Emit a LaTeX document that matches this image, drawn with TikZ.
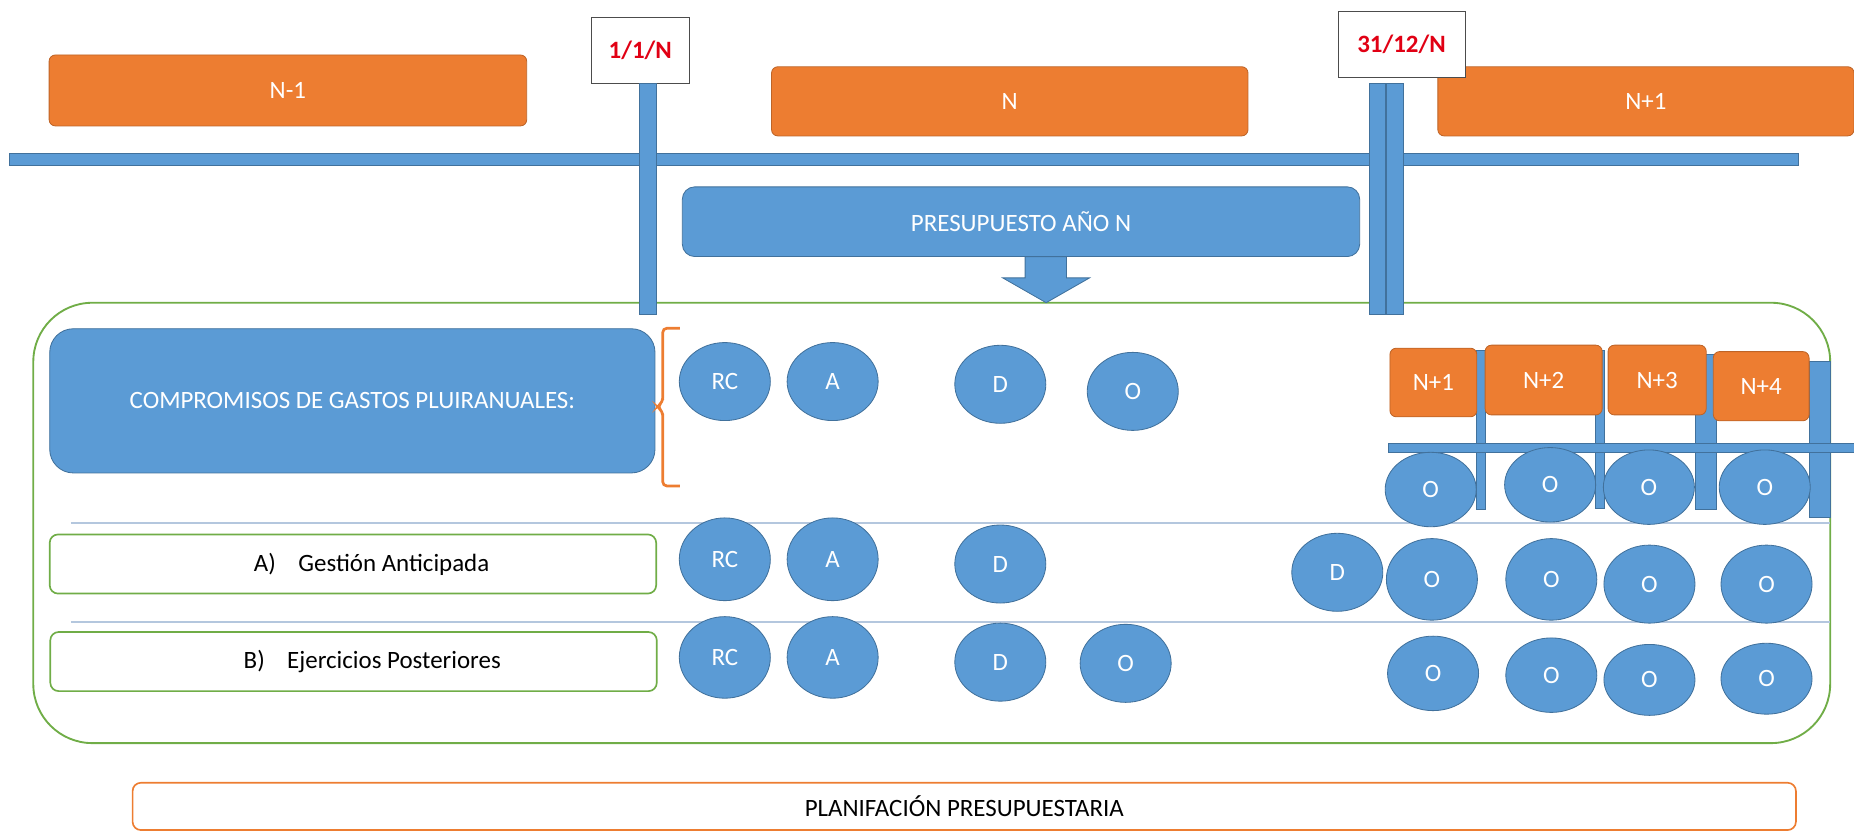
\documentclass[tikz,border=0pt]{standalone}
\usepackage{fontspec}
\setmainfont{Carlito}
\usetikzlibrary{positioning,shapes.geometric}

\begin{document}
\begin{tikzpicture}[x=0.02cm, y=-0.02cm, font=\fontsize{12}{14}\selectfont,
	yearbox/.style={draw=yearorange!80!black, fill=yearorange, text=white, rounded corners=3pt, inner sep=0pt},
	datebox/.style={draw=black!70, fill=white, text=datered, font=\fontsize{12}{14}\selectfont\bfseries, inner sep=0pt},
	bluebox/.style={draw=edgeblue, fill=barblue, text=white, inner sep=0pt},
	bar/.style={draw=edgeblue, fill=barblue, inner sep=0pt},
	phase/.style={ellipse, draw=edgeblue, fill=barblue, text=white, minimum width=1.54cm, minimum height=1.32cm, inner sep=0pt},
	rowbox/.style={draw=framegreen, line width=0.8pt, fill=white, rounded corners=4pt, minimum width=10.26cm, minimum height=1cm, inner sep=0pt},
	sepline/.style={draw=sepblue, line width=1pt}]
		
		% Colors
		\definecolor{yearorange}{RGB}{237,125,49}
		\definecolor{barblue}{RGB}{91,155,213}
		\definecolor{edgeblue}{RGB}{65,113,156}
		\definecolor{framegreen}{RGB}{112,173,71}
		\definecolor{datered}{RGB}{225,0,20}
		\definecolor{sepblue}{RGB}{180,199,222}
		
		\useasboundingbox (0,0) rectangle (1568,704);
		
		% Timeline
		\node (timeline) [bar, minimum width=30.28cm, minimum height=0.2cm] at (764.5,134.6) {};
		\node (yearprev) [yearbox, minimum width=8.08cm, minimum height=1.2cm] at (243.5,76.5) {N-1};
		\node (yearcur) [yearbox, minimum width=8.06cm, minimum height=1.17cm] at (854,85.7) {N};
		\node (yearnext) [yearbox, minimum width=7.04cm, minimum height=1.17cm] at (1392,85.7) {N+1};
		
		% Frame
		\node (frame) [draw=framegreen, line width=0.9pt, rounded corners=1cm, minimum width=30.4cm, minimum height=7.45cm] at (788,442.25) {};
		
		% Dates
		\node (start) [datebox, minimum width=1.66cm, minimum height=1.12cm] at (541.5,42.6) {1/1/N};
		\node (startbar) [bar, minimum width=0.29cm, minimum height=3.91cm] at (547.8,168.25) {};
		\node (end) [datebox, minimum width=2.15cm, minimum height=1.11cm] at (1185.3,37.65) {31/12/N};
		\node (endbarA) [bar, minimum width=0.28cm, minimum height=3.91cm] at (1165,168.25) {};
		\node (endbarB) [bar, minimum width=0.28cm, minimum height=3.91cm, right=0pt of endbarA] {};
		
		% Budget
		\node (budget) [bluebox, rounded corners=6pt, minimum width=11.46cm, minimum height=1.18cm] at (863.5,187.5) {PRESUPUESTO AÑO N};
		\filldraw[fill=barblue, draw=edgeblue] (867,217) -- (867,235) -- (848,235) -- (884.75,256) -- (921.5,235) -- (902,235) -- (902,217) -- cycle;
		
		% Rows
		\node (pluri) [bluebox, rounded corners=0.4cm, minimum width=10.24cm, minimum height=2.44cm] at (298,339) {COMPROMISOS DE GASTOS PLUIRANUALES:};
		\draw[yearorange, line width=1.3pt, rounded corners=2pt] (575,277.6) -- (560.5,277.6) -- (560.5,340) -- (555.7,344) -- (560.5,348) -- (560.5,411) -- (575,411);
		\draw[sepline] (60,442) -- (1548,442);
		\node (antic) [rowbox] at (298.5,477) {\hspace*{1.5em}A)\hspace{0.9em}Gestión Anticipada};
		\draw[sepline] (60,526) -- (1548,526);
		\node (poster) [rowbox] at (299,559.5) {\hspace*{1.5em}B)\hspace{0.9em}Ejercicios Posteriores};
		
		% Later years
		\node (laterbarA) [bar, minimum width=0.14cm, minimum height=2.7cm] at (1252.5,363.5) {};
		\node (laterbarB) [bar, minimum width=0.15cm, minimum height=2.68cm] at (1352.75,363) {};
		\node (laterbarC) [bar, minimum width=0.36cm, minimum height=2.62cm] at (1443,365.5) {};
		\node (laterbarD) [bar, minimum width=0.36cm, minimum height=2.64cm] at (1539,372) {};
		\node (laterline) [bar, minimum width=7.88cm, minimum height=0.16cm] at (1371,379) {};
		\node (yearA) [yearbox, minimum width=1.47cm, minimum height=1.16cm] at (1212.25,323.5) {N+1};
		\node (yearB) [yearbox, minimum width=1.98cm, minimum height=1.18cm] at (1305.5,321.4) {N+2};
		\node (yearC) [yearbox, minimum width=1.66cm, minimum height=1.18cm] at (1401.5,321.4) {N+3};
		\node (yearD) [yearbox, minimum width=1.62cm, minimum height=1.17cm] at (1489.5,326.6) {N+4};
		
		% Phases
		\node (pluriRC) [phase] at (613,322.7) {RC};
		\node (pluriA) [phase, right=0.27cm of pluriRC] {A};
		\node (pluriD) [phase] at (846,325) {D};
		\node (pluriO) [phase] at (958,331) {O};
		\node (pluriOA) [phase, minimum height=1.26cm] at (1210,414) {O};
		\node (pluriOB) [phase, minimum height=1.26cm] at (1311,410) {O};
		\node (pluriOC) [phase, minimum height=1.26cm] at (1394.5,412) {O};
		\node (pluriOD) [phase, minimum height=1.26cm] at (1492.5,412) {O};
		
		\node (anticRC) [phase, minimum height=1.4cm] at (613,473) {RC};
		\node (anticA) [phase, minimum height=1.4cm, right=0.27cm of anticRC] {A};
		\node (anticD) [phase] at (846,477) {D};
		\node (anticDD) [phase] at (1131,484) {D};
		\node (anticOA) [phase, minimum height=1.38cm] at (1211,490) {O};
		\node (anticOB) [phase, minimum height=1.38cm] at (1312,490) {O};
		\node (anticOC) [phase] at (1395,494) {O};
		\node (anticOD) [phase] at (1494,494) {O};
		
		\node (posterRC) [phase, minimum height=1.38cm] at (613,556) {RC};
		\node (posterA) [phase, minimum height=1.38cm, right=0.27cm of posterRC] {A};
		\node (posterD) [phase] at (846,560) {D};
		\node (posterO) [phase] at (952,561) {O};
		\node (posterOA) [phase, minimum height=1.26cm] at (1212,569.5) {O};
		\node (posterOB) [phase, minimum height=1.26cm] at (1312,571) {O};
		\node (posterOC) [phase, minimum height=1.2cm] at (1395,575) {O};
		\node (posterOD) [phase, minimum height=1.2cm] at (1494,574) {O};
		
		% Planning
		\node (plan) [draw=yearorange, line width=0.8pt, rounded corners=4pt, minimum width=28.14cm, minimum height=0.8cm] at (815.5,682) {PLANIFACIÓN PRESUPUESTARIA};
		
	\end{tikzpicture}
\end{document}
